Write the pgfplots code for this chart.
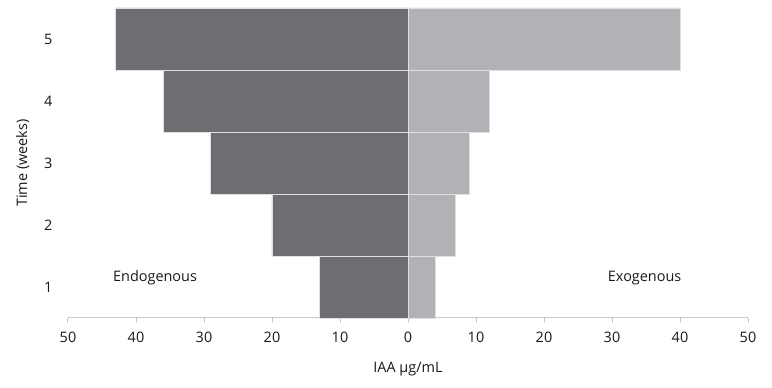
\documentclass[border=0pt]{standalone}
\usepackage{pgfplots}
\pgfplotsset{compat=1.18}
\usepackage{fontspec}
\setmainfont{Open Sans}
\definecolor{darkbar}{HTML}{6D6E71}
\definecolor{lightbar}{HTML}{B1B2B5}
\definecolor{axgray}{HTML}{C8C8C8}
\begin{document}
\begin{tikzpicture}
\begin{axis}[
  scale only axis,
  width=680bp, height=310bp,
  xmin=-50, xmax=50, ymin=0.5, ymax=5.5,
  xtick={-50,-40,...,50},
  ytick={1,2,3,4,5},
  xticklabel={\pgfmathparse{abs(\tick)}\pgfmathprintnumber{\pgfmathresult}},
  /pgf/number format/assume math mode=true,
  ticklabel style={font=\fontsize{14.5}{17}\selectfont, text=black!90},
  label style={font=\fontsize{14.5}{17}\selectfont, text=black!90},
  axis x line*=bottom, axis y line*=left,
  x axis line style={draw=axgray, line width=1pt},
  y axis line style={draw=none},
  xtick style={draw=axgray, line width=1pt},
  ytick style={draw=none},
  tick align=outside,
  major tick length=5bp,
  xticklabel style={yshift=-6bp},
  xlabel={IAA µg/mL},
  ylabel={Time (weeks)},
  xlabel style={yshift=-12bp},
  ylabel style={yshift=8bp},
  yticklabel style={xshift=-7bp},
  xbar, bar width=1, bar shift=0pt,
  clip=false,
]
\addplot[fill=darkbar, draw=white!88!black, line width=0.8pt] coordinates {(-13,1) (-20,2) (-29,3) (-36,4) (-43,5)};
\addplot[fill=lightbar, draw=white!88!black, line width=0.8pt] coordinates {(4,1) (7,2) (9,3) (12,4) (40,5)};
\node[font=\fontsize{14.5}{17}\selectfont, text=black!90] at (axis cs:-37.2,1.15) {Endogenous};
\node[font=\fontsize{14.5}{17}\selectfont, text=black!90] at (axis cs:34.8,1.15) {Exogenous};
\end{axis}
\useasboundingbox ([xshift=-68bp,yshift=-70bp]current axis.south west) rectangle ([xshift=24bp,yshift=8bp]current axis.north east);
\end{tikzpicture}
\end{document}
